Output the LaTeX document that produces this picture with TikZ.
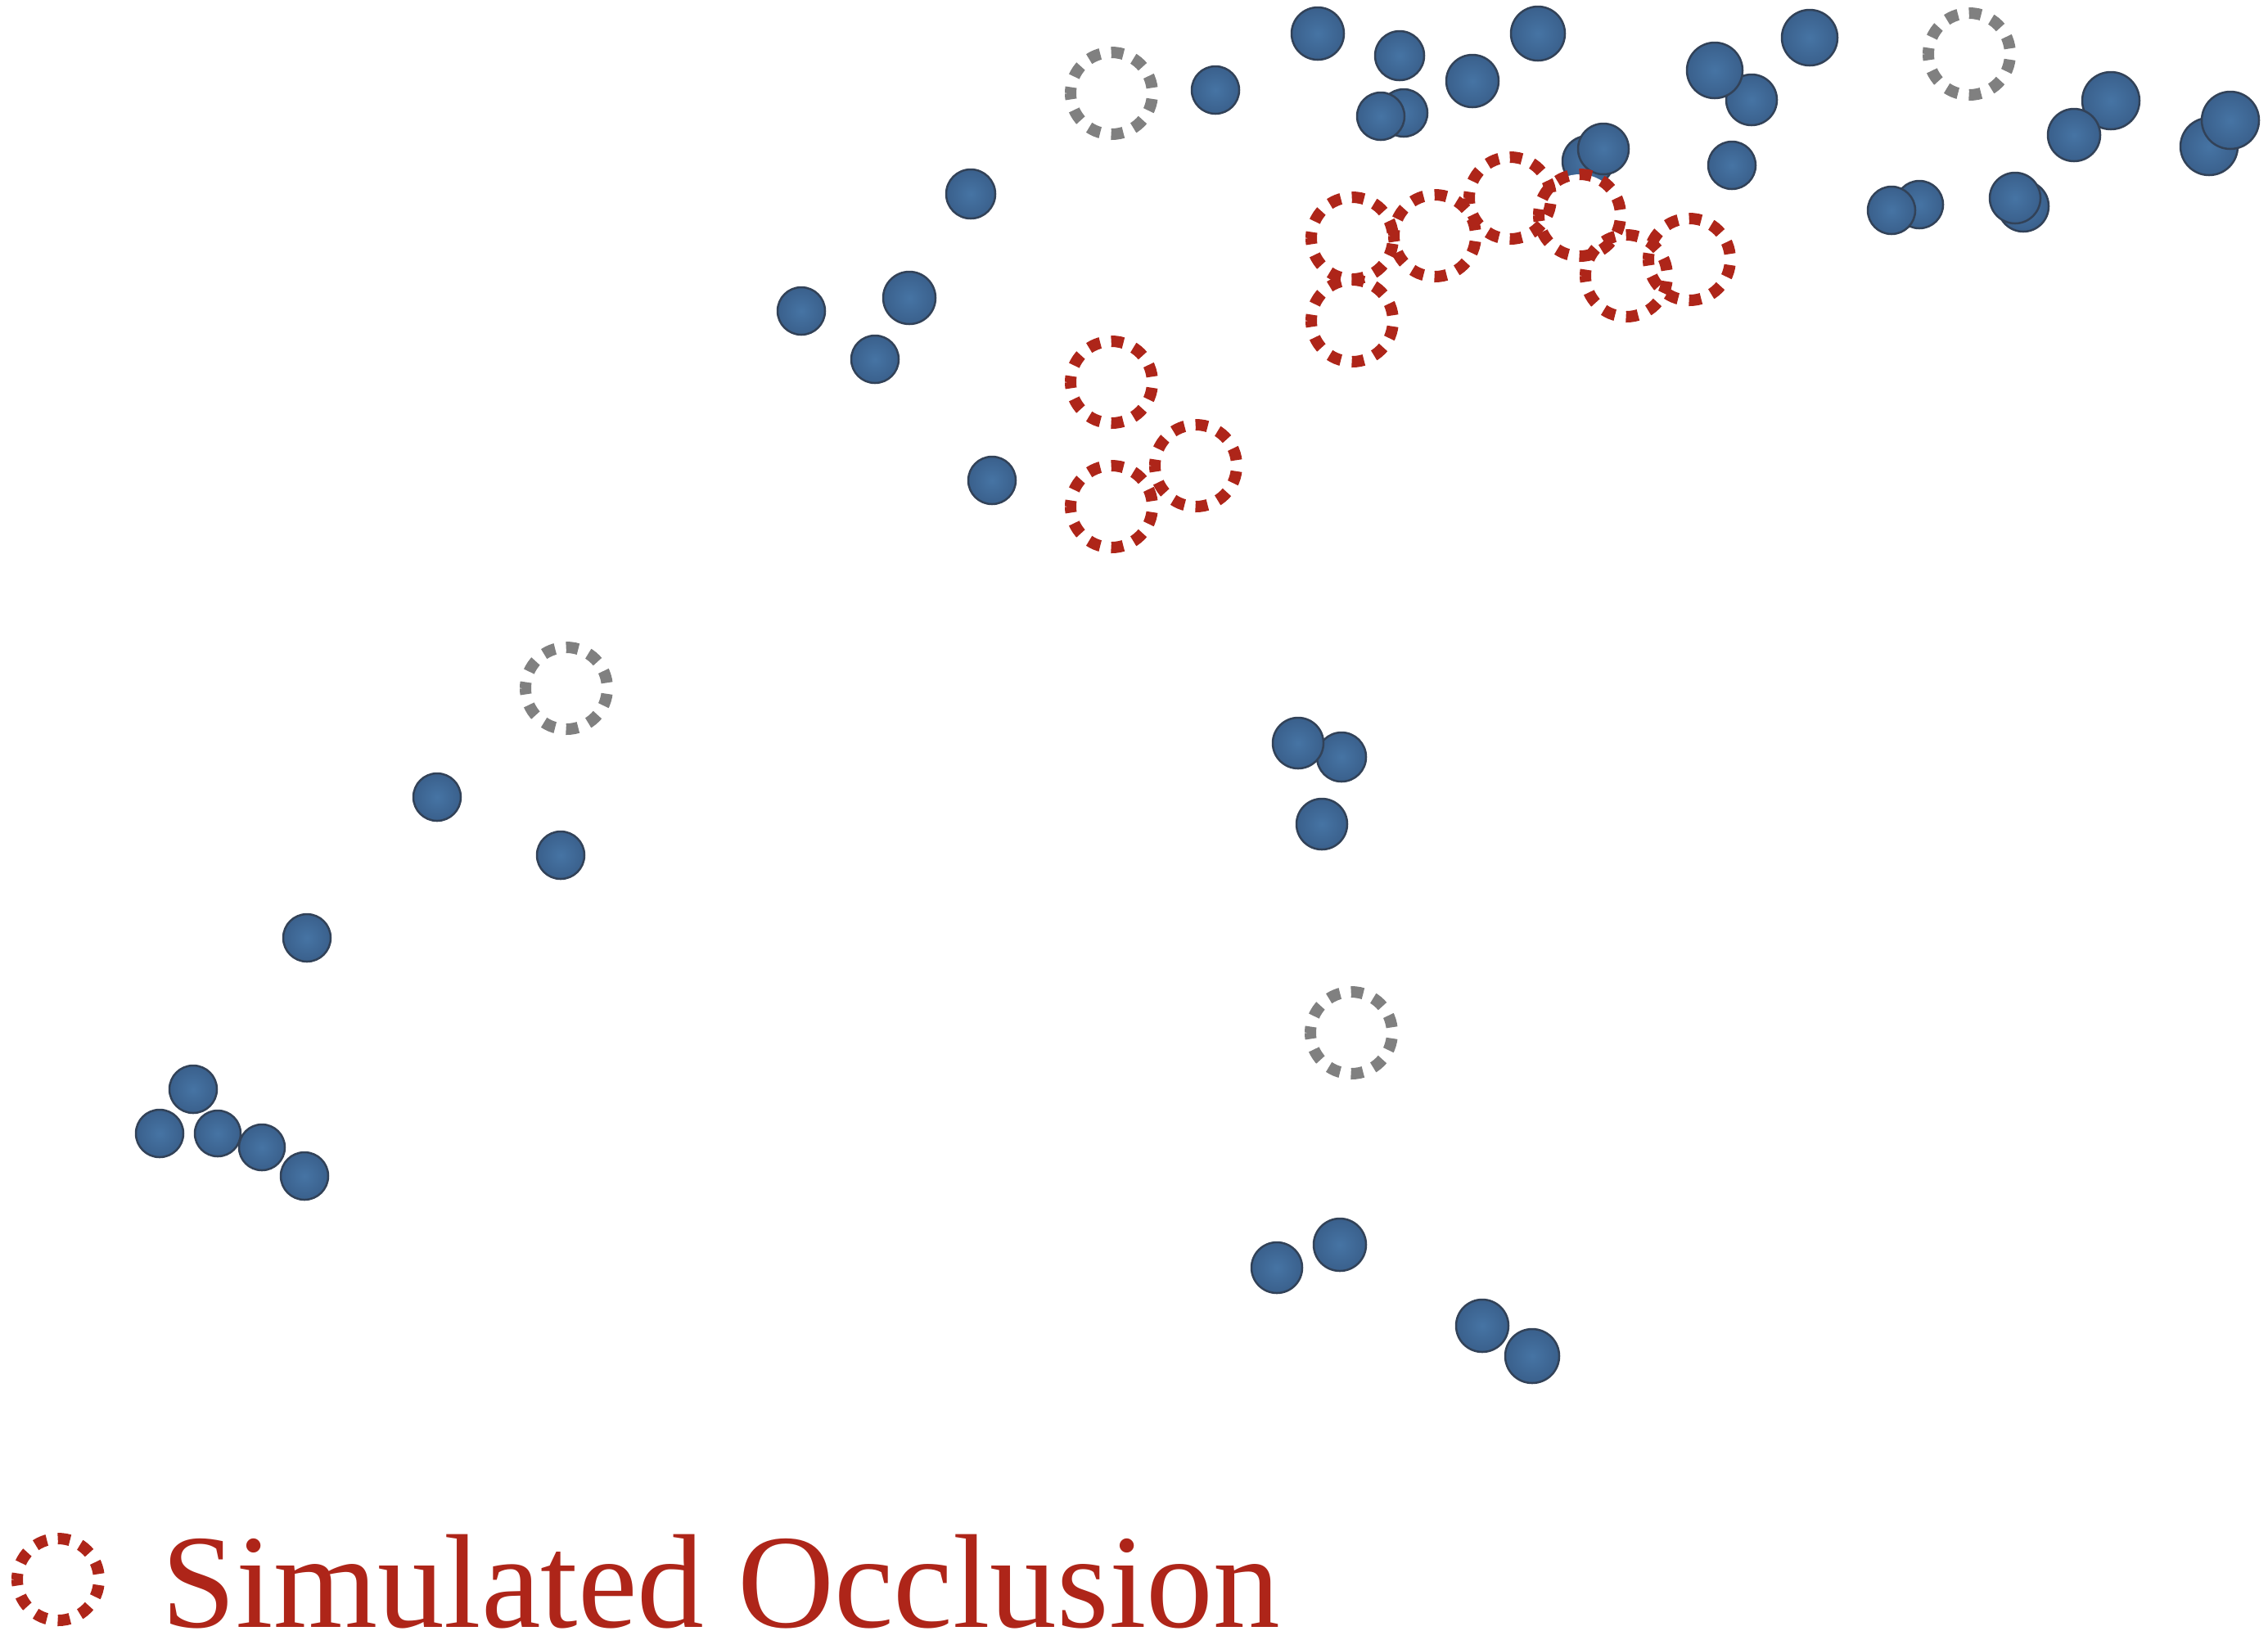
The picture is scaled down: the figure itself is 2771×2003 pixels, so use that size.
\documentclass[tikz,border=0pt]{standalone}
\usepackage{fontspec}
\setmainfont{Liberation Serif}
\definecolor{occred}{RGB}{174,37,25}
\definecolor{occgray}{RGB}{128,128,128}
\definecolor{ballin}{RGB}{70,116,164}
\definecolor{ballout}{RGB}{58,96,140}
\definecolor{ballrim}{RGB}{50,66,88}
\newcommand\ball[3]{\shadedraw[ball] (#1,#2) circle[radius={#3*0.1mm}];}
\newcommand\occfill[2]{\fill[white] (#1,#2) circle[radius=5mm];}
\newcommand\occ[3]{\draw[occl,draw=#3] (#1,#2) ++(-50,0) arc[start angle=180,end angle=-180,radius=5mm];}
\begin{document}
\begin{tikzpicture}[x=0.1mm,y=-0.1mm,
  ball/.style={shading=radial, inner color=ballin, outer color=ballout, draw=ballrim, line width=0.25mm},
  occl/.style={line width=1.4mm, dash pattern=on 1.5mm off 1.356mm, dash phase=0.75mm}]
\path[use as bounding box, fill=white] (0,0) rectangle (2771,2003);
% balls
\ball{1610}{41}{32}
\ball{1710}{68}{30}
\ball{1879}{41}{33}
\ball{1799}{99}{32}
\ball{1715}{138}{29}
\ball{1687}{142}{29}
\ball{1485}{110}{29}
\ball{2140}{122}{31}
\ball{2095}{86}{34}
\ball{2211}{46}{34}
\ball{1940}{197}{31}
\ball{1959}{182}{31}
\ball{2116}{202}{29}
\ball{2345}{250}{29}
\ball{2311}{257}{29}
\ball{2472}{252}{31}
\ball{2462}{242}{31}
\ball{2579}{123}{35}
\ball{2534}{165}{32}
\ball{2699}{179}{35}
\ball{2725}{147}{35}
\ball{1186}{237}{30}
\ball{979}{380}{29}
\ball{1111}{364}{32}
\ball{1069}{439}{29}
\ball{1212}{587}{29}
\ball{1639}{925}{30}
\ball{1586}{908}{31}
\ball{1615}{1007}{31}
\ball{534}{974}{29}
\ball{685}{1045}{29}
\ball{375}{1146}{29}
\ball{236}{1331}{29}
\ball{195}{1385}{29}
\ball{266}{1385}{28}
\ball{320}{1402}{28}
\ball{372}{1437}{29}
\ball{1637}{1521}{32}
\ball{1560}{1549}{31}
\ball{1811}{1620}{32}
\ball{1872}{1657}{33}
% occlusion interiors
\occfill{1358}{114}\occfill{2406}{66}\occfill{692}{841}\occfill{1651}{1262}
\occfill{1358}{467}\occfill{1461}{569}\occfill{1358}{619}\occfill{1652}{291}
\occfill{1652}{392}\occfill{1753}{288}\occfill{1845}{242}\occfill{1930}{263}
\occfill{1987}{337}\occfill{2064}{317}
% gray dashed circles
\occ{1358}{114}{occgray}
\occ{2406}{66}{occgray}
\occ{692}{841}{occgray}
\occ{1651}{1262}{occgray}
% red dashed circles
\occ{1358}{467}{occred}
\occ{1461}{569}{occred}
\occ{1358}{619}{occred}
\occ{1652}{291}{occred}
\occ{1652}{392}{occred}
\occ{1753}{288}{occred}
\occ{1845}{242}{occred}
\occ{1930}{263}{occred}
\occ{1987}{337}{occred}
\occ{2064}{317}{occred}
% legend
\occ{71}{1930}{occred}
\node[anchor=base west, text=occred, inner sep=0pt, text depth=0pt,
  font=\fontsize{46.5pt}{52pt}\selectfont] (legendlabel) at (197,1988) {Simulated Occlusion};
\end{tikzpicture}
\end{document}
